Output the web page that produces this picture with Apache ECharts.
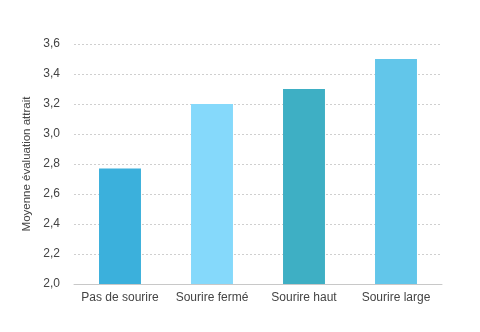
<!DOCTYPE html>
<html><head><meta charset="utf-8">
<script src="https://cdn.jsdelivr.net/npm/echarts@6/dist/echarts.min.js"></script>
<style>html,body{margin:0;padding:0;background:#fff}#c{width:480px;height:332px}</style>
</head><body><div id="c"></div>
<script>
const categories = ['Pas de sourire', 'Sourire fermé', 'Sourire haut', 'Sourire large'];
const values = [2.77, 3.2, 3.3, 3.5];
const barColors = ['#3bb0dc', '#85d9fb', '#3eafc4', '#62c6ea'];
const yTicks = { min: 2.0, max: 3.6, interval: 0.2 };
const yName = 'Moyenne évaluation attrait';

const chart = echarts.init(document.getElementById('c'), null, { renderer: 'canvas' });
chart.setOption({
  animation: false,
  textStyle: { fontFamily: 'Liberation Sans, Arial, sans-serif' },
  grid: { left: 74, right: 38, top: 44, bottom: 48, containLabel: false },
  xAxis: {
    type: 'category',
    data: categories,
    axisLine: { show: true, lineStyle: { color: '#c8c8c8', width: 1 } },
    axisTick: { show: false },
    axisLabel: { color: '#444', fontSize: 12, margin: 8, interval: 0 },
    splitLine: { show: false }
  },
  yAxis: {
    type: 'value',
    min: yTicks.min, max: yTicks.max, interval: yTicks.interval,
    name: yName,
    nameLocation: 'middle',
    nameGap: 38,
    nameRotate: 90,
    nameTextStyle: { color: '#444', fontSize: 11.5 },
    axisLine: { show: false },
    axisTick: { show: false },
    axisLabel: { color: '#444', fontSize: 12, margin: 14,
      formatter: v => v.toFixed(1).replace('.', ',') },
    splitLine: { show: true, lineStyle: { color: '#cfcfcf', type: [2, 2], width: 1 } }
  },
  series: [{
    type: 'bar',
    barWidth: '45.6%',
    data: values.map((v, i) => ({ value: v, itemStyle: { color: barColors[i] } }))
  }]
});
</script></body></html>
